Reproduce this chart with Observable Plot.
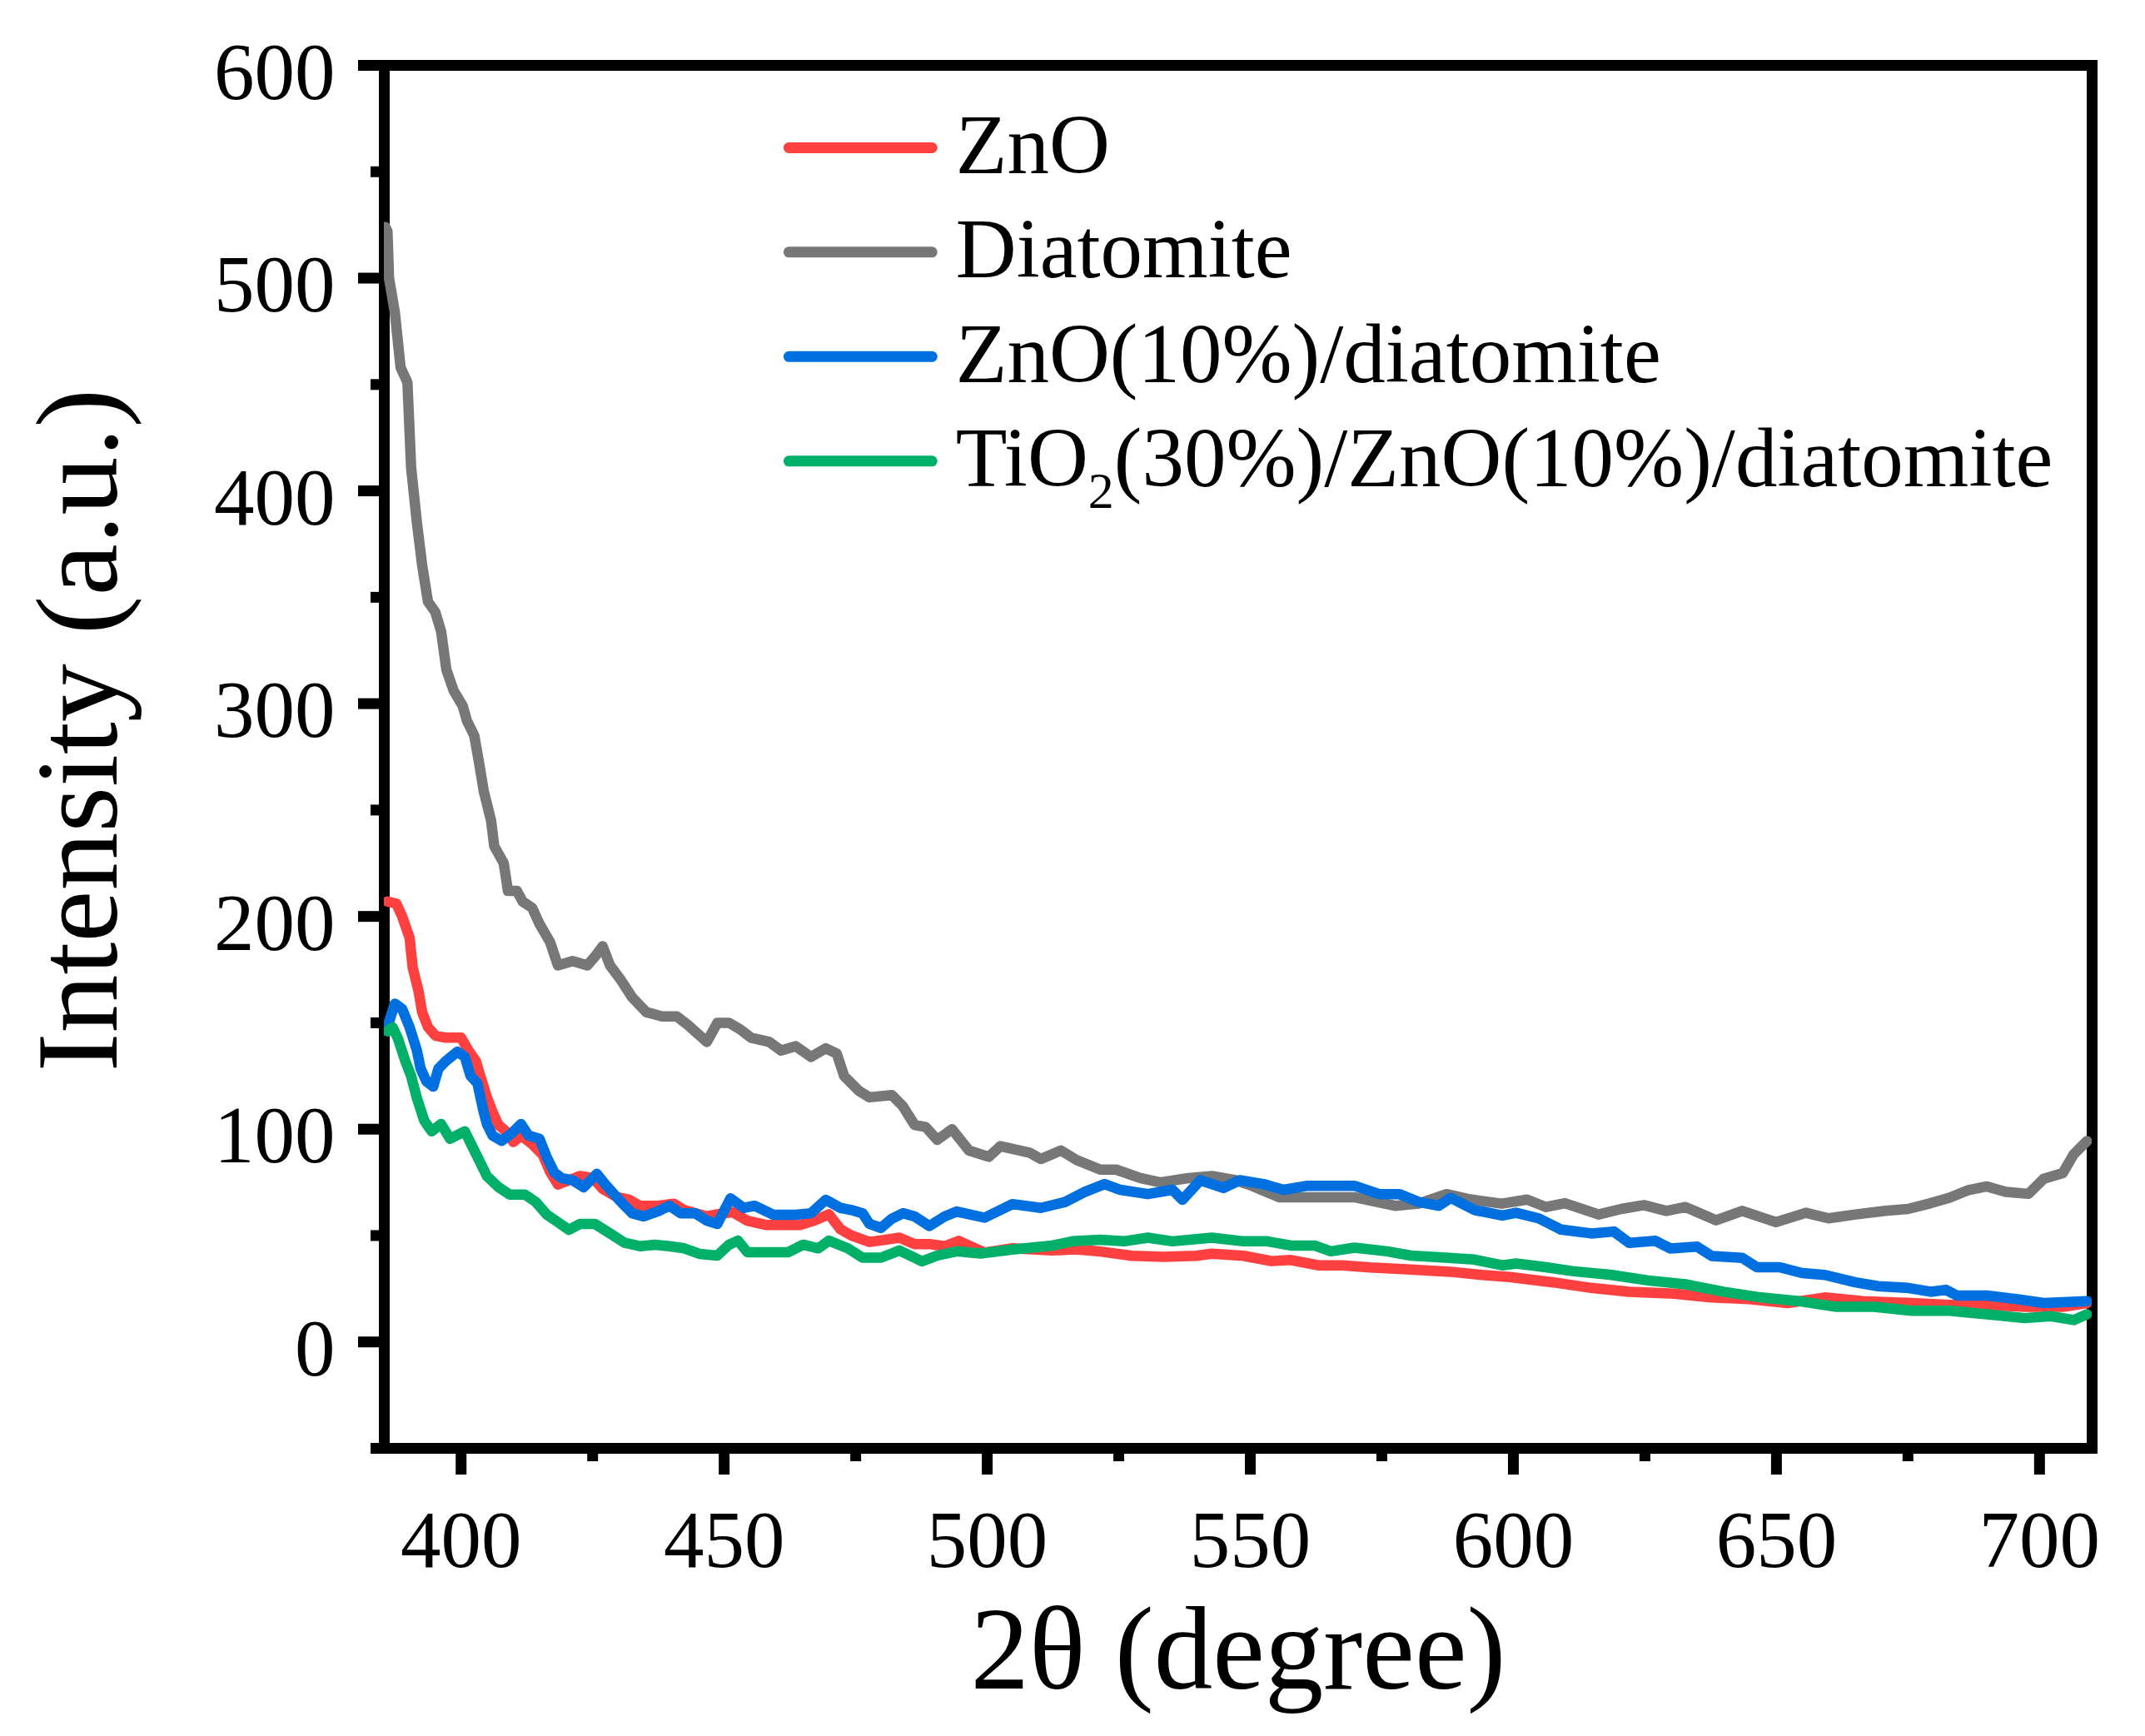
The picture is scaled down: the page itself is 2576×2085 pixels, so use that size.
<!DOCTYPE html>
<html>
<head>
<meta charset="utf-8">
<script src="https://cdn.jsdelivr.net/npm/d3@7"></script>
<script src="https://cdn.jsdelivr.net/npm/@observablehq/plot@0.6"></script>
<style>
html, body { margin: 0; padding: 0; background: #ffffff; overflow: hidden; }
#chart svg { display: block; }
</style>
</head>
<body>
<div id="chart"></div>
<script>
// ---- series names and colours ----
const seriesNames = ["ZnO", "Diatomite", "ZnO(10%)/diatomite", "TiO2(30%)/ZnO(10%)/diatomite"];
const seriesColors = ["#ff4040", "#777777", "#0070e0", "#00b068"];

// ---- ticks ----
const xTicks = [400, 450, 500, 550, 600, 650, 700];
const xMinorTicks = [425, 475, 525, 575, 625, 675];
const yTicks = [0, 100, 200, 300, 400, 500, 600];
const yMinorTicks = [-50, 50, 150, 250, 350, 450, 550];

// ---- ZnO (red) ----
const xZnO = [386.0,387.7,388.8,390.2,390.8,391.9,392.6,393.7,395.1,397.1,400.0,401.4,402.8,403.9,404.9,406.0,407.1,408.5,409.9,411.4,413.5,415.5,416.9,418.4,420.5,422.6,425.1,426.9,429.7,431.8,434.0,437.5,440.4,442.4,446.7,448.7,451.6,454.4,457.9,460.8,464.4,467.1,469.9,472.1,474.2,477.6,480.5,483.3,486.2,489.0,491.9,494.6,499.5,504.8,512.3,516.9,521.5,527.5,533.5,539.7,542.7,548.7,554.0,557.7,563.0,567.5,572.8,580.5,588.0,594.0,599.3,607.6,614.8,622.0,630.6,637.7,644.9,652.1,659.2,666.4,675.7,682.9,690.0,697.2,704.4,709.0];
const yZnO = [207,206,200,190,176,165,155,148,144,143,143,137,132,123,115,108,102,99,94,97,93,88,80,74,76,78,77,72,68,67,64,64,65,62,59,60,61,57,55,55,55,57,60,53,50,47,48,49,46,46,45,47.5,42,44,43,43.5,42.5,40.5,40,40.5,41.5,40.5,38,38.5,36,36,35,34,33,31.5,30.5,28,25.4,23.6,22.7,20.9,20.1,18.3,20.9,19.2,18.3,17.4,17.4,16.5,16.5,18.3];

// ---- Diatomite (grey) ----
const xDia = [385.6,386.0,386.3,387.4,388.5,389.8,390.5,391.6,392.6,393.7,395.1,396.2,397.2,398.6,400.3,401.1,402.5,403.5,404.3,405.7,406.3,408.1,408.9,410.6,411.7,413.5,414.9,416.9,418.4,421.2,424.0,425.4,426.9,428.3,430.4,432.5,435.2,438.2,441.0,443.1,446.7,448.7,450.9,453.0,455.1,458.6,460.8,463.6,466.5,469.3,471.4,472.8,475.6,477.6,481.9,483.9,486.2,488.3,490.5,493.3,496.5,500.3,502.5,508.0,510.2,514.0,517.0,521.5,524.5,529.1,532.9,538.2,542.7,547.2,550.2,555.5,561.5,565.3,569.8,577.5,582.0,587.3,591.8,597.8,602.6,606.2,609.8,616.2,620.5,624.8,629.1,632.7,638.5,643.5,649.9,655.6,659.9,665.0,670.7,675.0,679.3,682.9,686.5,690.0,693.6,697.9,700.8,704.4,706.5,709.0];
const yDia = [524,522,500,484,458,451,411,385,365,348,343,334,316,306,299,292,285,271,259,245,233,225,212,212,207,204,196.5,188,177,179,177,181,186,177,170,162,155,153,153,149,141,150,150,147,143,141,137,139,134,138,135.5,125,118,115,116,111,102,101,95,100,90,87,92,89,86,90,85.5,81,81,77,75,77,78,76,73.5,68,68,68,68,64,65,69.5,67,65,66.9,63.4,65.2,59.9,62.5,64.3,61.6,63.4,57.2,61.6,56.3,60.7,58.1,59.9,61.6,62.5,65.2,67.8,71.4,73.1,70.5,69.6,76.7,79.3,88.2,94.4];

// ---- ZnO(10%)/diatomite (blue) ----
const xZnODia = [386.0,387.4,388.8,390.2,391.6,392.3,393.4,394.7,395.7,397.1,399.3,400.7,401.8,403.1,404.2,404.9,406.0,407.7,409.6,411.4,412.8,414.9,416.3,417.7,419.1,421.2,423.3,425.8,427.5,430.4,432.5,434.7,437.5,439.6,441.7,444.5,446.7,448.7,451.2,453.7,455.8,459.3,463.6,466.5,469.3,472.1,474.2,476.3,477.6,479.8,481.9,484.0,486.2,489.0,491.9,494.2,499.5,504.8,510.2,514.8,518.5,522.3,525.3,530.5,535.2,537.1,540.5,544.9,548.0,552.5,556.3,560.9,564.6,569.8,574.5,578.3,582.0,585.8,588.1,592.6,597.9,600.5,604.8,609.1,614.8,619.1,622.0,627.0,629.9,634.9,637.7,643.5,646.3,650.6,654.9,659.2,665.0,669.3,675.0,679.3,682.2,684.3,690.0,695.8,700.8,709.0];
const yZnODia = [148,159,156.5,148,137,128.5,122.5,120,128.5,132,136.4,134,125,121.6,109,102.4,97,94.5,98,102.4,97,95.5,86.7,79.7,77,76,72.7,79,73.8,65.8,60.5,59,61.5,64,60.5,60.5,57,55.5,67.5,63,64,59.8,59.8,60.5,66.8,63,62,60.5,55.5,53.6,58,60.5,59,54.5,59,61.3,58.4,64.8,63,65.8,70.5,74.2,71.5,69.5,71.5,66.8,76,72.4,76,74.2,71.5,73.4,73.4,73.4,69.5,69.5,65.8,64,67.7,62,59.4,60.7,58.1,52.8,51,51.9,46.6,47.5,43.9,44.8,40.4,39.5,35.1,35.1,32.4,31.5,28,26.2,25.4,23.6,24.5,21.8,21.8,20.1,18.3,19.2];

// ---- TiO2(30%)/ZnO(10%)/diatomite (green) ----
const xTiZnODia = [386.0,387.0,388.0,389.4,390.5,391.6,393.0,394.4,396.2,397.9,400.7,402.1,403.5,404.9,407.1,409.2,412.1,414.2,416.3,418.4,420.5,422.6,425.4,428.3,431.1,434.0,436.8,439.6,442.4,445.3,448.7,450.9,452.6,454.4,458.5,462.2,465.0,467.9,469.9,473.5,476.3,479.8,483.3,487.6,490.5,494.2,498.7,504.8,512.4,516.2,521.5,526.0,530.5,535.2,542.7,548.7,553.2,557.7,562.2,565.3,569.8,576.0,580.5,586.5,592.6,597.9,600.5,606.2,611.2,618.4,625.6,632.7,639.9,647.1,654.2,661.4,668.5,675.7,682.9,690.0,697.2,702.2,706.5,709.0];
const yTiZnODia = [146,147.8,142.6,132,125,114.6,104,99,102.4,95.5,99,92,85,78,72.8,69.3,69.3,65.8,59.8,56.3,52.7,55.5,55.5,51,46.6,45,45.7,45,44,41.4,40.6,45.7,47.6,42.2,42.2,42.2,45.7,44,47.6,44,39.6,39.6,43,37.9,40.6,42.6,41.6,43.4,45.3,47.3,48,47.3,49,47.3,49,47.3,47.3,45.3,45.3,42.6,44.3,42.6,40.6,39.7,38.7,36,36.9,35.1,33.3,31.6,28.9,27.1,23.6,20.9,19.2,16.5,16.5,14.7,14.7,13,11.2,12.1,10.3,13];

// ---- build long table for Plot ----
const seriesX = [xZnO, xDia, xZnODia, xTiZnODia];
const seriesY = [yZnO, yDia, yZnODia, yTiZnODia];
const rows = [];
seriesNames.forEach((name, k) => {
  seriesX[k].forEach((x, i) => rows.push({series: name, x, y: seriesY[k][i]}));
});

const FONT = "'Liberation Serif', 'Times New Roman', Times, serif";
const legendTop = 561.3, legendStep = 49.1;

const chart = Plot.plot({
  width: 2576,
  height: 2085,
  marginLeft: 461,
  marginRight: 64,
  marginTop: 78,
  marginBottom: 346,
  x: {domain: [385.4, 710]},
  y: {domain: [-50, 600]},
  color: {domain: seriesNames, range: seriesColors},
  style: {fontFamily: FONT, fontSize: "97px", background: "#ffffff", color: "#000000"},
  marks: [
    Plot.frame({stroke: "#000", strokeWidth: 13}),
    // ticks
    Plot.axisX({ticks: xTicks, tickSize: 32, strokeWidth: 13, text: null, label: null}),
    Plot.axisX({ticks: xMinorTicks, tickSize: 16, strokeWidth: 13, text: null, label: null}),
    Plot.axisY({ticks: yTicks, tickSize: 31, strokeWidth: 13, text: null, label: null}),
    Plot.axisY({ticks: yMinorTicks, tickSize: 16, strokeWidth: 13, text: null, label: null}),
    // tick labels
    Plot.axisX({ticks: xTicks, tickSize: 0, tickPadding: 74, fontSize: 97, label: null, tickFormat: d => String(d)}),
    Plot.axisY({ticks: yTicks, tickSize: 0, tickPadding: 59, dy: 9, fontSize: 97, label: null, tickFormat: d => String(d)}),
    // data
    Plot.line(rows, {x: "x", y: "y", z: "series", stroke: "series", strokeWidth: 12.5, strokeLinejoin: "round", strokeLinecap: "round", clip: true}),
    // legend
    Plot.link(seriesNames, {
      x1: () => 462.3, x2: () => 489.5,
      y1: (d, i) => legendTop - legendStep * i,
      y2: (d, i) => legendTop - legendStep * i,
      stroke: d => d, strokeWidth: 13, strokeLinecap: "round"
    }),
    Plot.text(seriesNames, {
      x: () => 494.0,
      y: (d, i) => legendTop - legendStep * i,
      text: d => d, textAnchor: "start", lineAnchor: "middle",
      fontSize: 101, fill: "#000", dy: -2
    }),
    // axis titles
    Plot.text(["2θ (degree)"], {frameAnchor: "bottom", textAnchor: "middle", lineAnchor: "middle", dx: 0, dy: 243, fontSize: 141, fill: "#000"}),
    Plot.text(["Intensity (a.u.)"], {frameAnchor: "left", textAnchor: "middle", lineAnchor: "middle", rotate: -90, dx: -366, dy: -32, fontSize: 140, fill: "#000"})
  ]
});

// subscript 2 in TiO2
chart.querySelectorAll("text").forEach(t => {
  if (t.textContent === "TiO2(30%)/ZnO(10%)/diatomite") {
    t.textContent = "";
    const ns = "http://www.w3.org/2000/svg";
    const a = document.createElementNS(ns, "tspan"); a.textContent = "TiO";
    const b = document.createElementNS(ns, "tspan"); b.textContent = "2";
    b.setAttribute("font-size", "62"); b.setAttribute("dy", "26");
    const c = document.createElementNS(ns, "tspan"); c.textContent = "(30%)/ZnO(10%)/diatomite";
    c.setAttribute("dy", "-26");
    t.appendChild(a); t.appendChild(b); t.appendChild(c);
  }
});

document.getElementById("chart").appendChild(chart);
</script>
</body>
</html>
